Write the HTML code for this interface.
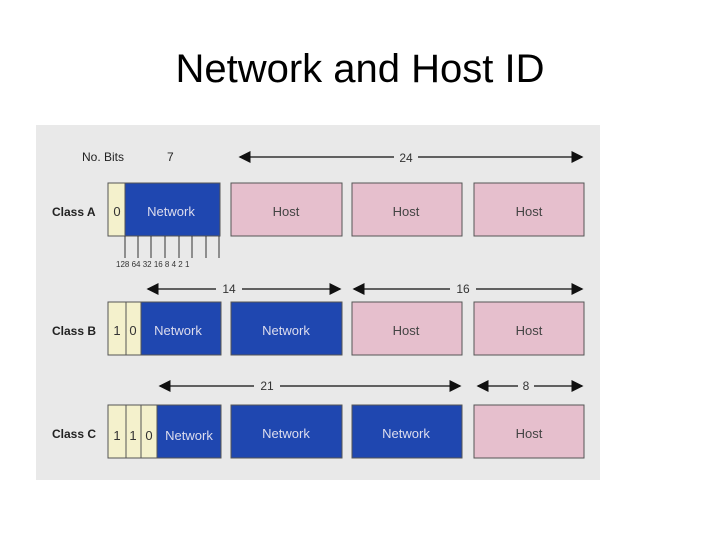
<!DOCTYPE html>
<html><head><style>
body{margin:0;width:720px;height:540px;background:#fff;overflow:hidden;font-family:"Liberation Sans",sans-serif}
</style></head><body>
<svg width="720" height="540" xmlns="http://www.w3.org/2000/svg" font-family="Liberation Sans, sans-serif">
<text x="360" y="82" text-anchor="middle" font-size="40" fill="#000" font-family="Liberation Sans, sans-serif">Network and Host ID</text>
<rect x="36" y="125" width="564" height="355" fill="#e9e9e9"/>
<defs><marker id="a" markerWidth="8" markerHeight="8" refX="7" refY="4" orient="auto-start-reverse"><path d="M0,0 L8,4 L0,8 z" fill="#111"/></marker></defs>
<g font-size="12" fill="#222">
<text x="82" y="161">No. Bits</text><text x="167" y="161">7</text>
<text x="52" y="216" font-weight="bold">Class A</text>
<text x="52" y="335" font-weight="bold">Class B</text>
<text x="52" y="438" font-weight="bold">Class C</text>
</g>
<g stroke="#333" stroke-width="1.5" marker-start="url(#a)" marker-end="url(#a)">
<line x1="240" y1="157" x2="394" y2="157" marker-end="none"/><line x1="418" y1="157" x2="582" y2="157" marker-start="none"/>
<line x1="148" y1="289" x2="216" y2="289" marker-end="none"/><line x1="242" y1="289" x2="340" y2="289" marker-start="none"/>
<line x1="354" y1="289" x2="450" y2="289" marker-end="none"/><line x1="476" y1="289" x2="582" y2="289" marker-start="none"/>
<line x1="160" y1="386" x2="254" y2="386" marker-end="none"/><line x1="280" y1="386" x2="460" y2="386" marker-start="none"/>
<line x1="478" y1="386" x2="518" y2="386" marker-end="none"/><line x1="534" y1="386" x2="582" y2="386" marker-start="none"/>
</g>
<g font-size="12" fill="#333" text-anchor="middle">
<text x="406" y="162">24</text><text x="229" y="293">14</text><text x="463" y="293">16</text><text x="267" y="390">21</text><text x="526" y="390">8</text>
</g>
<g stroke="#555" stroke-width="1">
<rect x="108" y="183" width="17" height="53" fill="#f4f1cc"/>
<rect x="125" y="183" width="95" height="53" fill="#1f47b0"/>
<rect x="231" y="183" width="111" height="53" fill="#e6bfcd"/>
<rect x="352" y="183" width="110" height="53" fill="#e6bfcd"/>
<rect x="474" y="183" width="110" height="53" fill="#e6bfcd"/>
<rect x="108" y="302" width="18" height="53" fill="#f4f1cc"/>
<rect x="126" y="302" width="15" height="53" fill="#f4f1cc"/>
<rect x="141" y="302" width="80" height="53" fill="#1f47b0"/>
<rect x="231" y="302" width="111" height="53" fill="#1f47b0"/>
<rect x="352" y="302" width="110" height="53" fill="#e6bfcd"/>
<rect x="474" y="302" width="110" height="53" fill="#e6bfcd"/>
<rect x="108" y="405" width="18" height="53" fill="#f4f1cc"/>
<rect x="126" y="405" width="15" height="53" fill="#f4f1cc"/>
<rect x="141" y="405" width="16" height="53" fill="#f4f1cc"/>
<rect x="157" y="405" width="64" height="53" fill="#1f47b0"/>
<rect x="231" y="405" width="111" height="53" fill="#1f47b0"/>
<rect x="352" y="405" width="110" height="53" fill="#1f47b0"/>
<rect x="474" y="405" width="110" height="53" fill="#e6bfcd"/>
</g>
<g stroke="#333" stroke-width="1">
<line x1="125" y1="236" x2="125" y2="258"/><line x1="138" y1="236" x2="138" y2="258"/><line x1="151" y1="236" x2="151" y2="258"/><line x1="165" y1="236" x2="165" y2="258"/><line x1="179" y1="236" x2="179" y2="258"/><line x1="192" y1="236" x2="192" y2="258"/><line x1="206" y1="236" x2="206" y2="258"/><line x1="219" y1="236" x2="219" y2="258"/>
</g>
<text x="116" y="267" font-size="8" fill="#333">128 64 32 16 8   4   2   1</text>
<g font-size="13" text-anchor="middle">
<text x="117" y="216" fill="#333">0</text><text x="171" y="216" fill="#dde">Network</text>
<text x="286" y="216" fill="#444">Host</text><text x="406" y="216" fill="#444">Host</text><text x="529" y="216" fill="#444">Host</text>
<text x="117" y="335" fill="#333">1</text><text x="133" y="335" fill="#333">0</text><text x="178" y="335" fill="#dde">Network</text>
<text x="286" y="335" fill="#dde">Network</text><text x="406" y="335" fill="#444">Host</text><text x="529" y="335" fill="#444">Host</text>
<text x="117" y="440" fill="#333">1</text><text x="133" y="440" fill="#333">1</text><text x="149" y="440" fill="#333">0</text><text x="189" y="440" fill="#dde">Network</text>
<text x="286" y="438" fill="#dde">Network</text><text x="406" y="438" fill="#dde">Network</text><text x="529" y="438" fill="#444">Host</text>
</g>
</svg>
</body></html>
